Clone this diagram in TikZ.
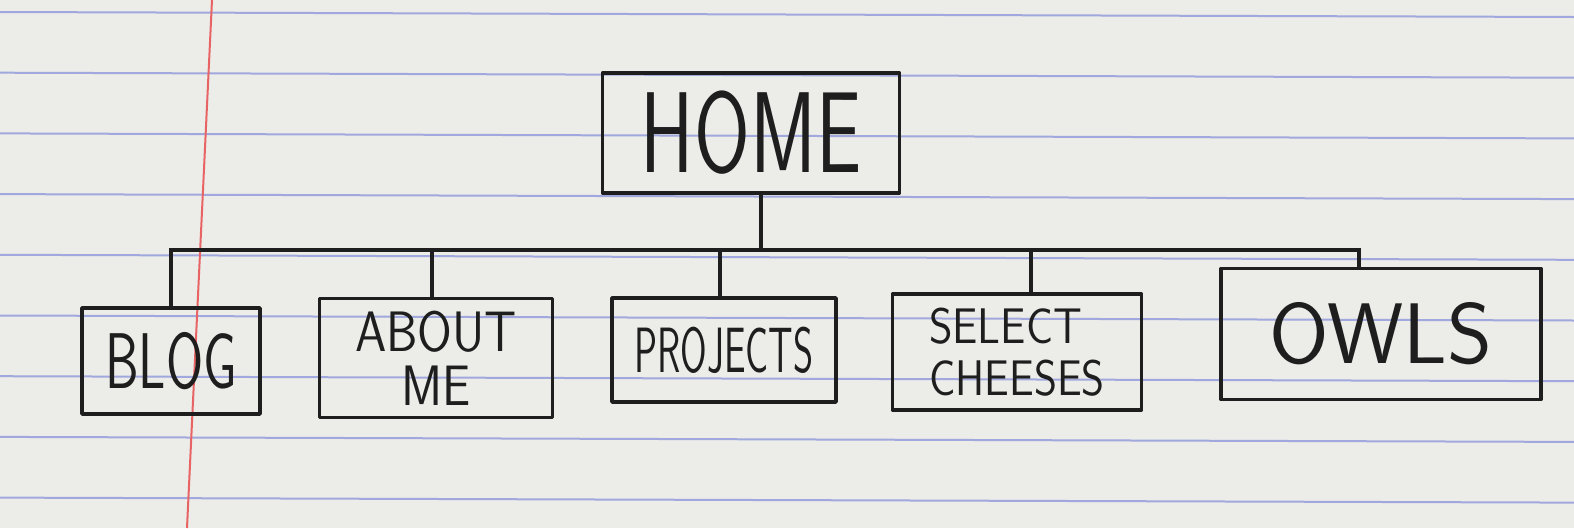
\documentclass[tikz,border=0pt]{standalone}
\usepackage{graphicx}
\usepackage{tikz}

\definecolor{paper}{RGB}{236,236,232}
\definecolor{rulecol}{RGB}{160,168,222}
\definecolor{margincol}{RGB}{232,100,100}
\definecolor{ink}{RGB}{30,30,30}

% squeeze a word sideways, like the narrow hand lettering
\newcommand{\squeeze}[2]{\scalebox{#1}[1]{#2}}

\begin{document}
\begin{tikzpicture}[x=1pt, y=-1pt,
    page/.style={draw, ink, line width=3.5pt, line join=round, inner sep=2pt, align=center},
    link/.style={ink, line width=3.5pt, line cap=round}]

    % Paper
    \useasboundingbox (0,0) rectangle (1574,528);
    \fill[paper] (0,0) rectangle (1574,528);
    \foreach \i in {0,...,8}
        \draw[rulecol, line width=2pt] (0,{12+60.7*\i}) -- (1574,{17+60.7*\i});
    \draw[margincol, line width=2pt] (212,0) -- (187,528);

    % Nodes
    \node (home) [page, minimum width=297pt, minimum height=120pt,
        font=\sffamily\fontsize{115}{115}\selectfont] at (751,133) {\squeeze{0.70}{HOME}};
    \node (blog) [page, minimum width=178pt, minimum height=106pt,
        font=\sffamily\fontsize{79}{79}\selectfont] at (171,361) {\squeeze{0.68}{BLOG}};
    \node (about) [page, minimum width=233pt, minimum height=119pt,
        font=\sffamily\fontsize{57}{54}\selectfont] at (436,358) {\squeeze{0.88}{ABOUT}\\\squeeze{0.88}{ME}};
    \node (projects) [page, minimum width=224pt, minimum height=104pt,
        font=\sffamily\fontsize{64}{64}\selectfont] at (724,350) {\squeeze{0.60}{PROJECTS}};
    \node (cheeses) [page, minimum width=249pt, minimum height=116pt, align=left,
        font=\sffamily\fontsize{50}{52}\selectfont] at (1017,352) {\squeeze{0.90}{SELECT}\\\squeeze{0.88}{CHEESES}};
    \node (owls) [page, minimum width=320pt, minimum height=131pt,
        font=\sffamily\fontsize{86}{86}\selectfont] at (1381,334) {OWLS};

    \coordinate (bus) at (762,250);

    % Connectors
    \draw[link] ([xshift=10pt]home.south) -- ([xshift=10pt]home.south |- bus);
    \draw[link] (blog.north) |- (bus) -| ([xshift=-22pt]owls.north);
    \draw[link] ([xshift=-4pt]about.north) -- ([xshift=-4pt]about.north |- bus);
    \draw[link] ([xshift=-4pt]projects.north) -- ([xshift=-4pt]projects.north |- bus);
    \draw[link] ([xshift=14pt]cheeses.north) -- ([xshift=14pt]cheeses.north |- bus);

\end{tikzpicture}
\end{document}
